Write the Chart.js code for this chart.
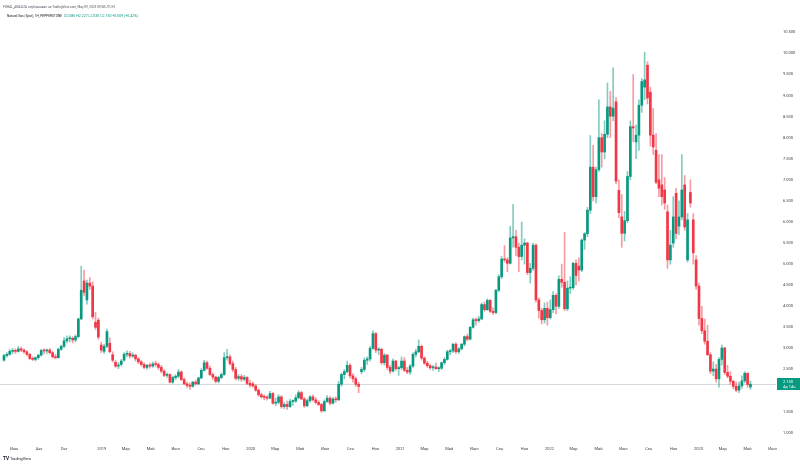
<!DOCTYPE html>
<html><head><meta charset="utf-8">
<script src="https://cdn.jsdelivr.net/npm/chart.js@4"></script>
<style>
html,body{margin:0;padding:0;background:#fff;}
#wrap{position:relative;width:800px;height:464px;overflow:hidden;}
canvas{position:absolute;left:0;top:0;}
</style></head><body>
<div id="wrap"><canvas id="c" width="800" height="464"></canvas></div>
<script>
// ---- data (weekly candles, Natural Gas Spot, from week of 2018-05-07) ----
const firstWeek = '2018-05-07';
const opens = [
2.72,2.83,2.86,2.93,2.95,2.93,2.99,2.96,2.92,2.86,2.76,2.74,2.78,2.84,2.95,2.94,2.96,2.90,2.80,2.78,2.98,3.05,3.18,3.23,3.24,3.20,3.28,3.70,4.60,4.15,4.55,4.48,3.62,3.67,3.08,
2.93,3.05,3.12,2.85,2.67,2.58,2.62,2.72,2.86,2.88,2.82,2.84,2.75,2.68,2.62,2.55,2.60,2.58,2.63,2.62,2.55,2.46,2.36,2.38,2.20,2.31,2.34,2.44,2.26,2.16,2.12,2.10,2.20,2.16,2.30,2.48,2.66,2.53,2.38,2.32,2.22,2.31,2.38,2.78,2.80,2.64,2.50,2.29,2.33,2.27,2.31,2.17,
2.16,2.11,2.01,1.90,1.85,1.84,1.82,1.93,1.70,1.72,1.85,1.62,1.67,1.62,1.74,1.75,1.83,1.95,1.80,1.64,1.76,1.85,1.78,1.72,1.67,1.52,1.74,1.82,1.70,1.80,1.78,2.15,2.38,2.45,2.60,2.35,2.28,2.15,2.45,2.50,2.72,2.75,3.00,3.35,2.96,2.98,2.66,2.84,2.55,2.46,2.70,2.52,
2.54,2.70,2.48,2.44,2.58,2.86,2.92,3.05,2.77,2.65,2.59,2.54,2.56,2.52,2.53,2.66,2.74,2.92,2.94,3.10,2.92,2.99,3.10,3.28,3.22,3.50,3.68,3.66,3.70,4.04,3.92,4.14,3.88,3.85,4.38,4.70,5.12,5.10,5.02,5.62,5.65,5.40,5.18,5.45,5.50,4.80,4.90,5.45,4.15,3.90,3.68,3.95,
3.73,3.92,4.26,4.00,4.64,4.57,3.94,4.43,4.44,5.02,4.95,4.86,5.57,5.72,6.28,7.30,6.60,7.24,8.00,7.66,8.08,8.73,8.51,8.85,6.75,6.12,5.73,6.03,7.08,8.26,7.90,8.06,8.77,9.20,9.72,9.08,8.06,7.70,7.00,6.88,6.76,6.24,5.10,5.50,6.68,5.90,6.12,6.88,5.10,6.70,6.05,5.10,
4.48,3.71,3.42,3.17,2.85,2.46,2.51,2.28,2.74,3.01,2.43,2.34,2.22,2.10,2.01,2.11,2.23,2.41,2.085
];
const highs = [
2.86,2.90,2.98,3.00,2.99,3.05,3.03,2.99,2.95,2.88,2.80,2.80,2.86,2.98,2.99,2.99,3.00,2.93,2.86,3.01,3.08,3.26,3.30,3.30,3.28,3.32,3.72,4.95,4.86,4.62,4.68,4.58,3.86,3.72,3.15,
3.10,3.46,3.25,2.92,2.72,2.66,2.74,2.90,2.94,2.93,2.90,2.86,2.78,2.72,2.66,2.62,2.65,2.68,2.70,2.66,2.60,2.50,2.42,2.40,2.35,2.38,2.50,2.47,2.30,2.20,2.18,2.22,2.25,2.32,2.52,2.72,2.70,2.58,2.42,2.34,2.34,2.42,2.90,2.98,2.85,2.70,2.55,2.38,2.38,2.36,2.33,2.24,
2.20,2.14,2.04,1.94,1.90,1.88,1.98,1.95,1.82,1.90,1.88,1.72,1.75,1.80,1.78,1.90,2.00,1.98,1.84,1.80,1.88,1.90,1.83,1.76,1.70,1.78,1.88,1.86,1.84,1.85,2.22,2.42,2.50,2.70,2.64,2.40,2.32,2.20,2.55,2.78,2.80,3.05,3.42,3.38,3.02,3.00,2.88,2.86,2.60,2.75,2.72,2.58,
2.80,2.78,2.55,2.62,2.90,2.98,3.20,3.08,2.80,2.70,2.62,2.60,2.65,2.56,2.68,2.78,2.96,2.98,3.12,3.14,3.02,3.12,3.30,3.34,3.52,3.72,3.72,3.76,4.08,4.10,4.18,4.16,3.96,4.40,4.75,5.18,5.44,5.15,5.90,6.42,5.80,5.50,6.00,5.60,5.52,5.02,5.50,5.48,4.20,3.95,4.08,4.10,
4.15,4.35,4.30,4.72,5.00,5.75,4.60,4.70,5.05,5.10,5.15,5.60,5.75,6.35,8.05,7.82,7.30,8.90,8.10,8.40,9.30,9.10,9.66,8.95,7.00,6.65,6.25,7.20,8.40,9.50,8.30,8.90,9.40,10.03,9.80,9.20,8.70,8.10,7.60,7.60,7.05,6.40,5.80,6.60,6.80,6.50,7.60,7.10,6.20,7.00,6.20,5.20,
4.55,4.00,3.70,3.55,2.90,2.68,2.62,2.78,3.08,3.03,2.60,2.45,2.25,2.20,2.20,2.35,2.45,2.42,2.227
];
const lows = [
2.70,2.79,2.84,2.87,2.88,2.91,2.92,2.88,2.82,2.74,2.71,2.70,2.74,2.82,2.87,2.88,2.87,2.77,2.75,2.77,2.95,3.02,3.13,3.15,3.13,3.16,3.25,3.68,4.25,4.05,4.40,3.70,3.45,3.22,2.90,
2.88,3.02,2.90,2.68,2.55,2.52,2.58,2.70,2.80,2.77,2.78,2.70,2.64,2.58,2.52,2.50,2.53,2.55,2.57,2.50,2.42,2.33,2.31,2.18,2.17,2.26,2.30,2.24,2.14,2.07,2.03,2.08,2.13,2.14,2.28,2.46,2.50,2.36,2.26,2.18,2.18,2.28,2.36,2.72,2.60,2.45,2.25,2.24,2.22,2.23,2.14,2.08,
2.08,1.98,1.86,1.82,1.78,1.77,1.80,1.68,1.64,1.68,1.58,1.57,1.55,1.60,1.65,1.72,1.80,1.78,1.60,1.62,1.72,1.75,1.68,1.64,1.48,1.50,1.72,1.66,1.68,1.72,1.76,2.10,2.28,2.42,2.30,2.20,2.10,1.95,2.40,2.45,2.62,2.70,2.98,2.90,2.85,2.62,2.60,2.50,2.40,2.44,2.48,2.36,
2.50,2.45,2.40,2.38,2.55,2.80,2.90,2.72,2.62,2.55,2.50,2.48,2.50,2.45,2.50,2.62,2.72,2.85,2.90,2.88,2.88,2.96,3.06,3.18,3.20,3.48,3.55,3.62,3.68,3.88,3.90,3.85,3.80,3.82,4.35,4.66,5.05,4.82,5.00,5.40,5.20,4.82,5.10,5.00,4.75,4.55,4.85,4.10,3.72,3.58,3.60,3.55,
3.70,3.85,3.82,3.95,4.45,3.90,3.90,4.30,4.40,4.50,4.60,4.82,5.35,5.65,6.20,6.50,6.45,7.20,7.30,7.50,8.00,8.00,8.40,6.90,6.10,5.40,5.55,5.98,7.00,7.90,7.50,7.70,8.60,8.90,8.80,7.80,7.60,6.90,6.60,6.40,6.30,4.90,5.00,5.40,5.60,5.70,6.05,5.80,5.05,6.35,5.00,4.40,
3.55,3.35,3.10,2.83,2.40,2.35,2.20,2.08,2.60,2.38,2.30,2.15,2.04,1.97,1.95,2.05,2.18,2.08,2.030
];
const closes = [
2.83,2.86,2.93,2.95,2.93,2.99,2.96,2.92,2.86,2.76,2.74,2.78,2.84,2.95,2.94,2.96,2.90,2.80,2.78,2.98,3.05,3.18,3.23,3.24,3.20,3.28,3.70,4.38,4.33,4.55,4.48,3.75,3.50,3.27,2.96,
3.05,3.40,2.92,2.72,2.58,2.60,2.70,2.86,2.88,2.82,2.84,2.75,2.68,2.62,2.55,2.60,2.58,2.63,2.62,2.55,2.46,2.36,2.38,2.20,2.31,2.34,2.44,2.26,2.16,2.12,2.10,2.20,2.16,2.30,2.48,2.66,2.53,2.38,2.32,2.22,2.31,2.38,2.78,2.80,2.64,2.50,2.29,2.33,2.27,2.31,2.17,2.13,
2.11,2.01,1.90,1.85,1.84,1.82,1.93,1.70,1.72,1.85,1.62,1.67,1.62,1.74,1.75,1.83,1.95,1.80,1.64,1.76,1.85,1.78,1.72,1.67,1.52,1.74,1.82,1.70,1.80,1.78,2.15,2.38,2.45,2.60,2.35,2.28,2.15,2.10,2.50,2.72,2.75,3.00,3.35,2.96,2.98,2.66,2.84,2.55,2.46,2.70,2.52,2.54,
2.70,2.48,2.44,2.58,2.86,2.92,3.05,2.77,2.65,2.59,2.54,2.56,2.52,2.53,2.66,2.74,2.92,2.94,3.10,2.92,2.99,3.10,3.28,3.22,3.50,3.68,3.66,3.70,4.04,3.92,4.14,3.88,3.85,4.38,4.70,5.12,5.10,5.02,5.62,5.65,5.40,5.18,5.45,5.50,4.80,4.90,5.45,4.15,3.90,3.68,3.95,3.73,
3.92,4.26,4.00,4.64,4.57,3.94,4.43,4.44,5.02,4.73,4.86,5.57,5.72,6.28,7.30,6.60,7.24,8.00,7.66,8.08,8.73,8.51,8.70,6.97,6.22,5.73,6.03,7.08,8.26,8.23,8.06,8.77,9.33,9.37,8.94,8.06,7.78,6.94,6.80,6.60,6.45,5.10,5.45,6.12,5.73,6.12,6.76,5.88,6.05,6.45,5.27,4.48,
3.71,3.42,3.17,2.85,2.46,2.51,2.28,2.74,3.01,2.43,2.34,2.22,2.10,2.01,2.11,2.23,2.41,2.141,2.150
];
const xTickDates = ['2018-06-01','2018-08-01','2018-10-01','2019-01-01','2019-03-01','2019-05-01','2019-07-01','2019-09-01','2019-11-01',
'2020-01-01','2020-03-01','2020-05-01','2020-07-01','2020-09-01','2020-11-01','2021-01-01','2021-03-01','2021-05-01','2021-07-01','2021-09-01','2021-11-01',
'2022-01-01','2022-03-01','2022-05-01','2022-07-01','2022-09-01','2022-11-01','2023-01-01','2023-03-01','2023-05-01','2023-07-01'];
const xTickLabels = ['Июн','Авг','Окт','2019','Мар','Май','Июл','Сен','Ноя',
'2020','Мар','Май','Июл','Сен','Ноя','2021','Мар','Май','Июл','Сен','Ноя',
'2022','Мар','Май','Июл','Сен','Ноя','2023','Мар','Май','Июл'];
const yTickValues = [1.0,1.5,2.0,2.5,3.0,3.5,4.0,4.5,5.0,5.5,6.0,6.5,7.0,7.5,8.0,8.5,9.0,9.5,10.0,10.5];
const headerLine1 = 'FOHAL_ANALIZA опубликовал на TradingView.com, May 09, 2023 09:58 UTC+3';
const headerSymbol = 'Natural Gas (Spot), 1Н, PEPPERSTONE';
const headerValues = 'O2.085 H2.227 L2.030 C2.150 +0.009 (+0.42%)';
const countdown = '4д 14ч';

// ---- rendering ----
const UP = '#089981', DOWN = '#f23645';
const UPW = 'rgba(8,153,129,0.5)', DOWNW = 'rgba(242,54,69,0.5)';
const FONT = 'Roboto, "Liberation Sans", sans-serif';
function weekIndex(d){ return (Date.parse(d) - Date.parse(firstWeek)) / (7*86400000); }

const bodies = opens.map((o,i)=>({x:i, y:[o, closes[i]]}));
const wicks = opens.map((o,i)=>({x:i, y:[lows[i], highs[i]]}));
const bodyColors = opens.map((o,i)=> closes[i] >= o ? UP : DOWN);
const wickColors = opens.map((o,i)=> closes[i] >= o ? UPW : DOWNW);
const lastClose = closes[closes.length-1];

const overlay = {
  id:'overlay',
  beforeDatasetsDraw(chart){
    const {ctx, chartArea:a, scales:{y}} = chart;
    const py = Math.round(y.getPixelForValue(lastClose)) + 0.5;
    ctx.save();
    ctx.strokeStyle = '#d6d8dd'; ctx.lineWidth = 1;
    ctx.beginPath(); ctx.moveTo(a.left, py); ctx.lineTo(a.right, py); ctx.stroke();
    ctx.restore();
  },
  afterDraw(chart){
    const {ctx, chartArea:a, scales:{y}} = chart;
    const py = Math.round(y.getPixelForValue(lastClose));
    ctx.save();
    ctx.fillStyle = UP;
    ctx.fillRect(a.right + 1, py - 6, 23, 12);
    ctx.fillStyle = '#fff';
    ctx.font = '4px ' + FONT;
    ctx.textAlign = 'left'; ctx.textBaseline = 'middle';
    ctx.fillText(lastClose.toFixed(3), a.right + 7, py - 2.5);
    ctx.fillText(countdown, a.right + 7, py + 3);
    // header
    ctx.fillStyle = '#50535e';
    ctx.font = '4px ' + FONT;
    ctx.fillText(headerLine1, 3, 6.5, 112);
    ctx.fillStyle = '#131722';
    ctx.fillText(headerSymbol, 7, 16, 55);
    ctx.fillStyle = UP;
    ctx.fillText(headerValues, 64, 16, 74);
    // logo
    ctx.fillStyle = '#131722';
    ctx.font = 'bold 5px ' + FONT;
    ctx.fillText('TV', 3, 458.5, 6);
    ctx.font = '4px ' + FONT;
    ctx.fillText('TradingView', 10, 458.5, 21);
    ctx.restore();
  }
};

new Chart(document.getElementById('c'), {
  type:'bar',
  data:{datasets:[
    {data:bodies, backgroundColor:bodyColors, barThickness:2, grouped:false, minBarLength:1, borderWidth:0, borderSkipped:false},
    {data:wicks, backgroundColor:wickColors, barThickness:1, grouped:false, borderWidth:0, borderSkipped:false}
  ]},
  options:{
    responsive:false, animation:false, devicePixelRatio:1,
    layout:{padding:{top:20,left:0,right:0,bottom:0}},
    plugins:{legend:{display:false}, tooltip:{enabled:false}},
    scales:{
      x:{
        type:'linear', min:-1.4, max:269.93, offset:false,
        grid:{display:false, drawTicks:false}, border:{display:false},
        afterBuildTicks: s => { s.ticks = xTickDates.map(d => ({value: weekIndex(d)})); },
        afterFit: s => { s.height = 24; },
        ticks:{autoSkip:false, maxRotation:0, minRotation:0, padding:7, color:'#3a3e49',
          font:{size:4, family:FONT}, callback:(v,i)=> xTickLabels[i]}
      },
      y:{
        position:'right', min:0.827, max:10.792, beginAtZero:false,
        grid:{display:false, drawTicks:false}, border:{display:false},
        afterBuildTicks: s => { s.ticks = yTickValues.map(v => ({value:v})); },
        afterFit: s => { s.width = 24; },
        ticks:{padding:7, color:'#3a3e49', font:{size:4, family:FONT},
          callback: v => Math.abs(v - lastClose) < 0.3 ? '' : Number(v).toFixed(3)}
      }
    }
  },
  plugins:[overlay]
});
</script>
</body></html>
